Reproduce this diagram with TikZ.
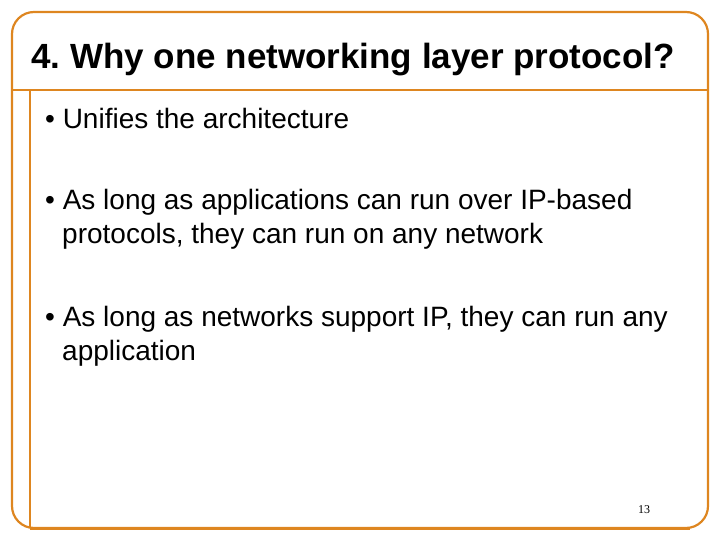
\documentclass[tikz,border=0pt]{standalone}
\usepackage{fontspec}
\setmainfont{Liberation Sans}
\newfontfamily\serifnum{Liberation Serif}
\definecolor{frameorange}{RGB}{222,134,32}
\begin{document}
\begin{tikzpicture}[x=1pt,y=-1pt,
  frame/.style={draw=frameorange,line width=2.2pt},
  txt/.style={anchor=west,inner sep=0pt,font=\fontsize{28}{34}\selectfont,align=left}]
\useasboundingbox (0,0) rectangle (720,540);
\draw[frame,rounded corners=22pt] (12,12) rectangle (708,528);
\draw[frame] (12,90) -- (708,90);
\draw[frame] (30,90) -- (30,528);
\draw[frame,line width=3pt] (30,528) -- (690,528);
\node[anchor=west,inner sep=0pt,font=\bfseries\fontsize{35}{40}\selectfont] (title) at (31,60) {4.\ Why one networking layer protocol?};
\node[txt] (b1) at (45,118) {• Unifies the architecture};
\node[txt] (b2) at (45,219) {• As long as applications can run over IP-based\\\hspace{17pt}protocols, they can run on any network};
\node[txt] (b3) at (45,336) {• As long as networks support IP, they can run any\\\hspace{17pt}application};
\node[font=\serifnum\fontsize{12}{14}\selectfont,inner sep=0pt] (pg) at (644,510) {13};
\end{tikzpicture}
\end{document}
